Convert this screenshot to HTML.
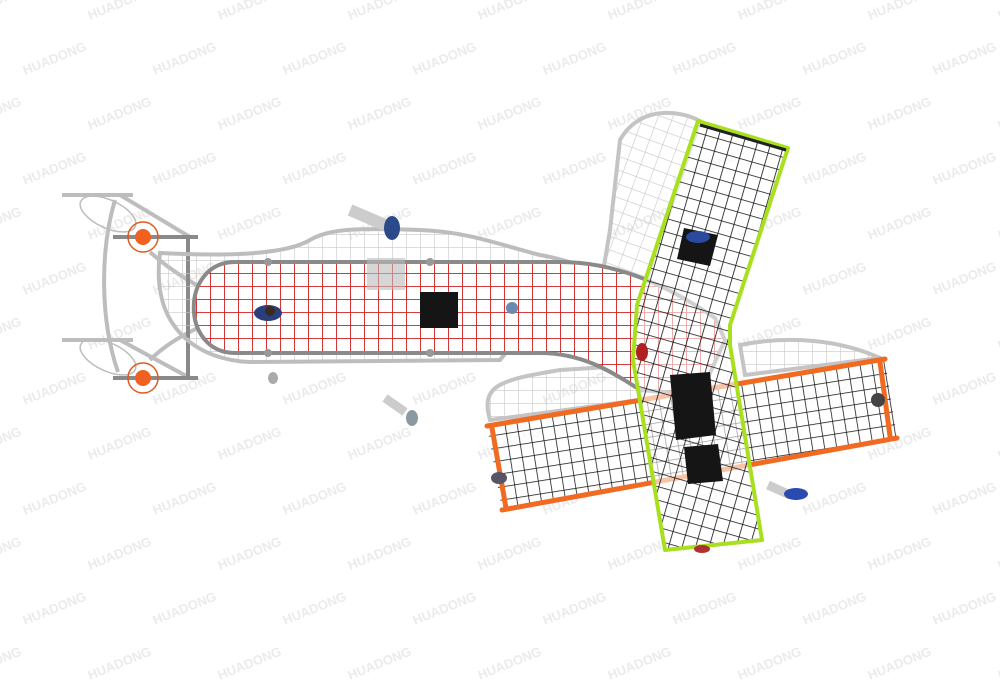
<!DOCTYPE html>
<html><head><meta charset="utf-8"><style>
html,body{margin:0;padding:0;background:#fff;width:1000px;height:680px;overflow:hidden}
svg{display:block;position:absolute;left:0;top:0}
.wm{font-family:"Liberation Sans",sans-serif;font-weight:bold;font-size:13px;fill:#ebebeb}
</style></head><body>
<svg width="1000" height="680" viewBox="0 0 1000 680" xmlns="http://www.w3.org/2000/svg">
<defs>
<pattern id="red" width="14" height="13" patternUnits="userSpaceOnUse">
<path d="M0 0H14M0 0V13" stroke="#d02020" stroke-width="1.8" fill="none"/></pattern>
<pattern id="blk" width="13" height="13" patternUnits="userSpaceOnUse" patternTransform="rotate(16)">
<path d="M0 0H13M0 0V13" stroke="#111" stroke-width="1.6" fill="none"/></pattern>
<pattern id="blk2" width="12" height="13" patternUnits="userSpaceOnUse" patternTransform="rotate(-9)">
<path d="M0 0H12M0 0V13" stroke="#111" stroke-width="1.5" fill="none"/></pattern>
<pattern id="gry" width="14" height="13" patternUnits="userSpaceOnUse">
<path d="M0 0H14M0 0V13" stroke="#c8c8c8" stroke-width="1.2" fill="none"/></pattern>
<pattern id="gry2" width="14" height="13" patternUnits="userSpaceOnUse" patternTransform="rotate(20)">
<path d="M0 0H14M0 0V13" stroke="#c8c8c8" stroke-width="1.2" fill="none"/></pattern>
</defs>

<g class="wm" id="wms"></g>

<!-- tail -->
<g fill="none" stroke="#bdbdbd" stroke-width="4">
<path d="M62 195 H133 M120 195 L190 237 M115 200 C100 250,100 320,118 372 M62 340 H133 M120 340 L190 378"/>
<path d="M150 252 C170 270,200 290,230 300 M150 360 C170 340,200 325,225 318"/>
<ellipse cx="108" cy="214" rx="30" ry="14" transform="rotate(25 108 214)" stroke-width="1.5"/>
<ellipse cx="108" cy="357" rx="30" ry="14" transform="rotate(25 108 357)" stroke-width="1.5"/>
</g>
<g stroke="#8a8a8a" stroke-width="4" fill="none">
<path d="M113 237 H198 M113 378 H198 M188 237 V378"/>
</g>
<g>
<circle cx="143" cy="237" r="15" fill="none" stroke="#e05a20" stroke-width="1.5"/>
<circle cx="143" cy="237" r="8" fill="#f06020"/>
<circle cx="143" cy="378" r="15" fill="none" stroke="#e05a20" stroke-width="1.5"/>
<circle cx="143" cy="378" r="8" fill="#f06020"/>
</g>

<path d="M160 253 C200 255,280 258,310 240 C330 228,360 228,420 230 C470 232,500 245,540 255 C580 262,620 280,660 300 L640 320 C600 300,560 290,520 290 L300 300 C260 310,300 330,350 330 L520 335 L500 360 L250 362 C200 360,150 330,160 253 Z" fill="url(#gry)" stroke="#bdbdbd" stroke-width="4"/>
<path d="M620 140 C640 105,680 110,700 121 L640 300 L600 290 L610 230 Z" fill="url(#gry2)" stroke="#c4c4c4" stroke-width="4"/>
<path d="M740 345 C790 335,840 340,880 358 L745 375 Z" fill="url(#gry)" stroke="#c4c4c4" stroke-width="4"/>
<path d="M490 420 C480 385,500 380,560 370 L640 365 L640 400 Z" fill="url(#gry)" stroke="#c4c4c4" stroke-width="4"/>

<path d="M235 262 L560 262 C610 262,660 280,715 318 L725 340 L700 395 L640 390 C610 370,580 353,540 353 L235 353 C180 353,180 262,235 262 Z" fill="#fff"/>
<path d="M235 262 L560 262 C610 262,660 280,715 318 L725 340 L700 395 L640 390 C610 370,580 353,540 353 L235 353 C180 353,180 262,235 262 Z" fill="url(#red)" stroke="#8a8a8a" stroke-width="4"/>
<rect x="367" y="258" width="38" height="32" fill="#bbb" opacity=".6"/>
<rect x="420" y="292" width="38" height="36" fill="#151515"/>
<g fill="#999"><circle cx="268" cy="262" r="4"/><circle cx="430" cy="262" r="4"/><circle cx="268" cy="353" r="4"/><circle cx="430" cy="353" r="4"/></g>

<polygon points="487,426 885,359 897,438 502,510" fill="#fff" opacity=".7"/>
<polygon points="487,426 885,359 897,438 502,510" fill="url(#blk2)"/>
<g stroke="#f06a22" stroke-width="5" fill="none" stroke-linecap="round">
<path d="M487 426 L885 359 M502 510 L897 438 M492 428 L506 508 M880 362 L890 436"/>
</g>

<polygon points="698,121 788,148 730,325 730,345 762,540 665,550 633,360 637,305" fill="#fff" opacity=".6"/>
<polygon points="698,121 788,148 730,325 730,345 762,540 665,550 633,360 637,305" fill="url(#blk)"/>
<polygon points="698,121 788,148 730,325 730,345 762,540 665,550 633,360 637,305" fill="none" stroke="#a8e020" stroke-width="4" stroke-linejoin="round"/>
<path d="M700 125 L786 150" stroke="#222" stroke-width="3"/>
<g fill="#151515">
<polygon points="684,228 718,235 710,266 677,259"/>
<polygon points="670,375 710,372 716,435 676,440"/>
<polygon points="684,447 718,444 723,481 688,484"/>
</g>

<g>
<ellipse cx="268" cy="313" rx="14" ry="8" fill="#2a3f7a"/><circle cx="270" cy="311" r="5" fill="#3a2a20"/>
<path d="M350 210 L385 225" stroke="#ccc" stroke-width="12"/>
<ellipse cx="392" cy="228" rx="8" ry="12" fill="#2a4a8a"/>
<ellipse cx="512" cy="308" rx="6" ry="6" fill="#6a8ab0"/>
<path d="M385 398 L405 412" stroke="#ccc" stroke-width="9"/>
<ellipse cx="412" cy="418" rx="6" ry="8" fill="#8a9aa0"/>
<ellipse cx="273" cy="378" rx="5" ry="6" fill="#aaa"/>
<ellipse cx="642" cy="352" rx="6" ry="9" fill="#b02020"/>
<ellipse cx="698" cy="237" rx="12" ry="6" fill="#2a4aa0"/>
<path d="M768 485 L790 495" stroke="#ccc" stroke-width="9"/>
<ellipse cx="796" cy="494" rx="12" ry="6" fill="#2a4ab0"/>
<ellipse cx="878" cy="400" rx="7" ry="7" fill="#444"/>
<ellipse cx="499" cy="478" rx="8" ry="6" fill="#556"/>
<ellipse cx="702" cy="549" rx="8" ry="4" fill="#b03030"/>
</g>
</svg>
<script>
(function(){var g=document.getElementById('wms');var s='';
for(var r=0;r<14;r++){for(var c=0;c<9;c++){var X=c*130+(r%2)*65-40, Y=r*55+20-c*0;
if(X<-80||X>1000||Y>700)continue;
s+='<text x="'+X+'" y="'+Y+'" transform="rotate(-22 '+X+' '+Y+')">HUADONG</text>';}}
g.innerHTML=s;})();
</script>
</body></html>
